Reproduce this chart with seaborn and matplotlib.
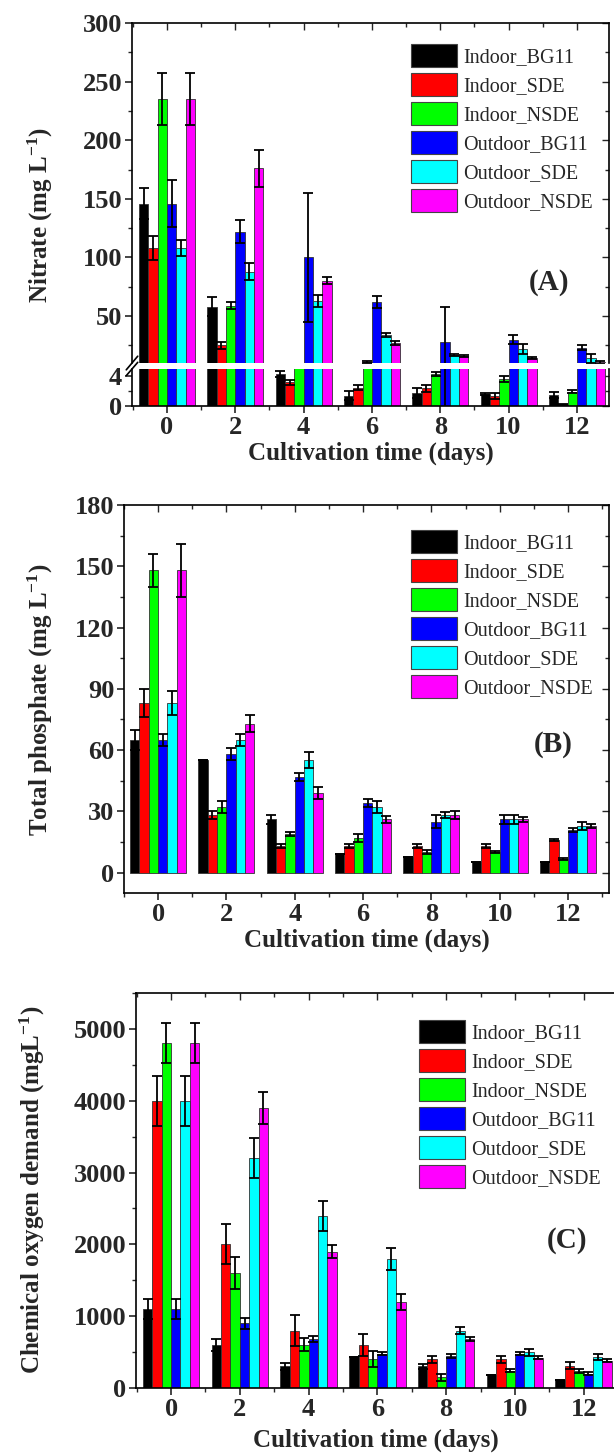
import numpy as np
import pandas as pd
import seaborn as sns
import matplotlib.pyplot as plt
from matplotlib.patches import Patch
from matplotlib.ticker import MultipleLocator

# series and days
days = ['0', '2', '4', '6', '8', '10', '12']
series = ['Indoor_BG11', 'Indoor_SDE', 'Indoor_NSDE',
          'Outdoor_BG11', 'Outdoor_SDE', 'Outdoor_NSDE']
colors = ['#000000', '#FF0000', '#00FF00', '#0000FF', '#00FFFF', '#FF00FF']

# (A) nitrate, mg/L  - one list per series, values for days 0..12
nitrate = {
    'Indoor_BG11':  [146, 58, 4.3, 1.4, 1.8, 1.6, 1.5],
    'Indoor_SDE':   [108, 25, 3.2, 2.5, 2.4, 1.4, 0.2],
    'Indoor_NSDE':  [235, 59, 8.0, 10.8, 4.3, 3.7, 1.9],
    'Outdoor_BG11': [146, 122, 100, 62, 28, 30, 23],
    'Outdoor_SDE':  [108, 88, 63, 34, 17, 22, 14],
    'Outdoor_NSDE': [235, 176, 80, 27, 16, 14, 10.5],
}
nitrate_err = {
    'Indoor_BG11':  [13, 8, 0.4, 0.6, 0.7, 0.1, 0.4],
    'Indoor_SDE':   [10, 3, 0.3, 0.3, 0.5, 0.4, 0.05],
    'Indoor_NSDE':  [22, 3, 0.5, 0.5, 0.3, 0.4, 0.2],
    'Outdoor_BG11': [20, 10, 55, 5, 30, 4, 2],
    'Outdoor_SDE':  [7, 7, 5, 2, 1, 4, 4],
    'Outdoor_NSDE': [22, 16, 3, 2, 1, 1, 1],
}

# (B) total phosphate, mg/L
phosphate = {
    'Indoor_BG11':  [65, 55, 26, 9, 7.5, 5, 5],
    'Indoor_SDE':   [83, 28, 13, 13, 13, 13, 16],
    'Indoor_NSDE':  [148, 32, 19, 17, 10, 10, 6.5],
    'Outdoor_BG11': [65, 58, 47, 34, 25, 26, 21],
    'Outdoor_SDE':  [83, 65, 55, 32, 28, 26, 23],
    'Outdoor_NSDE': [148, 73, 39, 26, 28, 26, 23],
}
phosphate_err = {
    'Indoor_BG11':  [5, 0, 2, 0, 0, 0, 0],
    'Indoor_SDE':   [7, 2, 1, 1, 1, 1, 0.5],
    'Indoor_NSDE':  [8, 3, 1, 2, 1, 0.5, 0.5],
    'Outdoor_BG11': [3, 3, 2, 2, 3, 2, 1],
    'Outdoor_SDE':  [6, 3, 4, 3, 1.5, 2, 2],
    'Outdoor_NSDE': [13, 4, 3, 1.5, 2, 1, 1],
}

# (C) chemical oxygen demand, mg/L
cod = {
    'Indoor_BG11':  [1100, 600, 300, 430, 300, 180, 110],
    'Indoor_SDE':   [4000, 2000, 800, 600, 400, 400, 310],
    'Indoor_NSDE':  [4800, 1600, 600, 400, 150, 240, 240],
    'Outdoor_BG11': [1100, 900, 680, 480, 450, 480, 200],
    'Outdoor_SDE':  [4000, 3200, 2400, 1800, 800, 500, 430],
    'Outdoor_NSDE': [4800, 3900, 1900, 1200, 680, 420, 380],
}
cod_err = {
    'Indoor_BG11':  [140, 80, 50, 0, 30, 0, 0],
    'Indoor_SDE':   [350, 280, 210, 150, 50, 50, 50],
    'Indoor_NSDE':  [280, 220, 90, 110, 50, 20, 30],
    'Outdoor_BG11': [140, 80, 40, 20, 30, 20, 20],
    'Outdoor_SDE':  [350, 280, 210, 150, 50, 50, 40],
    'Outdoor_NSDE': [280, 220, 90, 110, 30, 20, 20],
}


def long_form(vals):
    rows = []
    for s in series:
        for d, v in zip(days, vals[s]):
            rows.append({'day': d, 'series': s, 'value': v})
    return pd.DataFrame(rows)


sns.set_theme(style='ticks')
plt.rcParams['font.family'] = ['Liberation Serif', 'DejaVu Serif']
plt.rcParams['mathtext.fontset'] = 'custom'
plt.rcParams['mathtext.rm'] = 'Liberation Serif:bold'
plt.rcParams['mathtext.bf'] = 'Liberation Serif:bold'
plt.rcParams['mathtext.default'] = 'bf'

fig = plt.figure(figsize=(6.14, 14.56), dpi=100)
H = 1456.0
W = 614.0
TICK_FS = 19
LAB_FS = 18


def add_ax(left, right, top, bottom):
    return fig.add_axes([left / W, 1 - bottom / H, (right - left) / W, (bottom - top) / H])


def draw_bars(ax, vals, errs):
    sns.barplot(data=long_form(vals), x='day', y='value', hue='series',
                order=days, hue_order=series, palette=colors, errorbar=None,
                width=0.82, edgecolor='#333333', linewidth=0.6, legend=False,
                saturation=1, ax=ax)
    for cont, s in zip(ax.containers, series):
        xs = [p.get_x() + p.get_width() / 2 for p in cont]
        ax.errorbar(xs, vals[s], yerr=errs[s], fmt='none', ecolor='black',
                    elinewidth=1.3, capsize=3.5, capthick=1.3)


def style_ax(ax, major, minor, xlim, show_x=True, top=True, bottom=True, right=True):
    ax.set_xlim(*xlim)
    ax.yaxis.set_major_locator(MultipleLocator(major))
    ax.yaxis.set_minor_locator(MultipleLocator(minor))
    ax.xaxis.set_minor_locator(MultipleLocator(0.5))
    ax.tick_params(axis='both', which='major', direction='out', length=5, width=1.2,
                   labelsize=TICK_FS, pad=2)
    ax.tick_params(axis='both', which='minor', direction='out', length=3, width=1.0)
    for lab in ax.get_yticklabels() + ax.get_xticklabels():
        lab.set_fontweight('bold')
    for sp in ax.spines.values():
        sp.set_linewidth(1.2)
        sp.set_color('black')
    ax.spines['top'].set_visible(top)
    ax.spines['bottom'].set_visible(bottom)
    if not show_x:
        ax.tick_params(axis='x', which='both', bottom=False, labelbottom=False)
    ax.set_xlabel('')
    ax.set_ylabel('')
    if right:
        # inward mirrored ticks on right
        r = ax.secondary_yaxis('right')
        r.yaxis.set_major_locator(MultipleLocator(major))
        r.yaxis.set_minor_locator(MultipleLocator(minor))
        r.tick_params(which='both', direction='in', labelright=False, width=1.0)
        r.tick_params(which='major', length=5)
        r.tick_params(which='minor', length=3)
        r.spines['right'].set_visible(False)
    if top:
        t = ax.secondary_xaxis('top')
        t.xaxis.set_major_locator(MultipleLocator(1))
        t.xaxis.set_minor_locator(MultipleLocator(0.5))
        t.tick_params(which='both', direction='in', labeltop=False, width=1.0)
        t.tick_params(which='major', length=5)
        t.tick_params(which='minor', length=3)
        t.spines['top'].set_visible(False)


legend_handles = [Patch(facecolor=c, edgecolor='#444444', linewidth=0.8, label=s)
                  for c, s in zip(colors, series)]


def add_legend(x, y):
    fig.legend(handles=legend_handles, loc='upper left', bbox_to_anchor=(x / W, 1 - y / H),
               frameon=False, fontsize=14.5, handlelength=2.3, handleheight=1.4,
               handletextpad=0.3, labelspacing=0.28, borderpad=0, borderaxespad=0)


def set_days(ax):
    ax.set_xticks(range(len(days)))
    ax.set_xticklabels(days, fontweight='bold')
    ax.set_xlabel('Cultivation time (days)', fontsize=LAB_FS, fontweight='bold', labelpad=2)


# ---- (A) broken axis
xl_a = (-0.51, 6.47)
axA_up = add_ax(132, 609, 23, 363)
axA_lo = add_ax(132, 609, 369, 406)
draw_bars(axA_up, nitrate, nitrate_err)
draw_bars(axA_lo, nitrate, nitrate_err)
axA_up.set_ylim(10, 300)
axA_lo.set_ylim(0, 5)
style_ax(axA_up, 50, 25, xl_a, show_x=False, bottom=False)
style_ax(axA_lo, 4, 2, xl_a, top=False)
set_days(axA_lo)
# break marks on the left spine
for ax_, y0, dy in [(axA_up, 0.0, 0.02), (axA_lo, 1.0, 0.18)]:
    ax_.plot([-0.012, 0.012], [y0 - dy, y0 + dy], transform=ax_.transAxes,
             color='black', lw=1.2, clip_on=False)
fig.text(40 / W, 1 - 215 / H, 'Nitrate (mg L$^{-1}$)', rotation=90, fontsize=LAB_FS,
         fontweight='bold', ha='center', va='center')
fig.text(549 / W, 1 - 282 / H, '(A)', fontsize=21, fontweight='bold', ha='center', va='center')
add_legend(411, 44)

# ---- (B)
axB = add_ax(124, 609, 505, 893)
draw_bars(axB, phosphate, phosphate_err)
axB.set_ylim(-10, 180)
style_ax(axB, 30, 15, (-0.5, 6.6))
set_days(axB)
fig.text(40 / W, 1 - 700 / H, 'Total phosphate (mg L$^{-1}$)', rotation=90, fontsize=LAB_FS,
         fontweight='bold', ha='center', va='center')
fig.text(553 / W, 1 - 745 / H, '(B)', fontsize=21, fontweight='bold', ha='center', va='center')
add_legend(411, 530)

# ---- (C)
axC = add_ax(136, 616, 993, 1388)
draw_bars(axC, cod, cod_err)
axC.set_ylim(0, 5500)
style_ax(axC, 1000, 500, (-0.51, 6.47), right=False)
set_days(axC)
axC.xaxis.labelpad = 6
fig.text(32 / W, 1 - 1190 / H, 'Chemical oxygen demand (mgL$^{-1}$)', rotation=90,
         fontsize=LAB_FS, fontweight='bold', ha='center', va='center')
fig.text(567 / W, 1 - 1240 / H, '(C)', fontsize=21, fontweight='bold', ha='center', va='center')
add_legend(419, 1020)

fig.savefig('out.png', dpi=100)
